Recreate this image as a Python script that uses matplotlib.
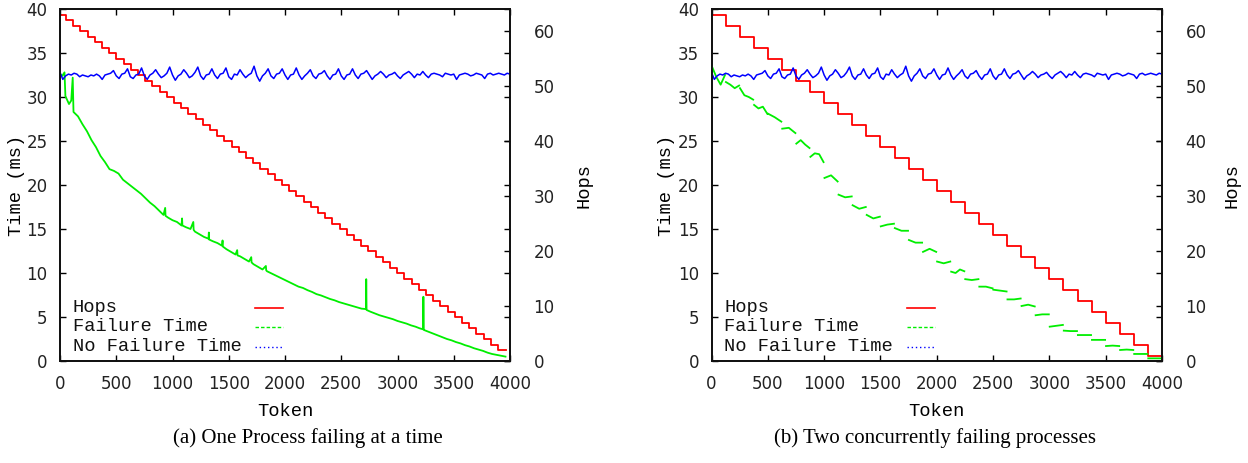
import numpy as np
import matplotlib
matplotlib.use("Agg")
import matplotlib.pyplot as plt

# ---------------- data ----------------
# Hops staircase, panel (a): step start tokens and hop levels
hops_a_start = [0, 54, 118, 182, 246, 310, 374, 438, 502, 566, 630, 694, 758, 822, 886, 950,
                1014, 1078, 1142, 1206, 1270, 1334, 1398, 1462, 1526, 1590, 1654, 1718, 1782,
                1846, 1910, 1974, 2038, 2102, 2166, 2230, 2294, 2358, 2422, 2486, 2550, 2614,
                2678, 2742, 2806, 2870, 2934, 2998, 3062, 3126, 3190, 3254, 3318, 3382, 3446,
                3510, 3574, 3638, 3702, 3766, 3830, 3894]
hops_a_level = [63, 62, 61, 60, 59, 58, 57, 56, 55, 54, 53, 52, 51, 50, 49, 48, 47, 46, 45, 44,
                43, 42, 41, 40, 39, 38, 37, 36, 35, 34, 33, 32, 31, 30, 29, 28, 27, 26, 25, 24,
                23, 22, 21, 20, 19, 18, 17, 16, 15, 14, 13, 12, 11, 10, 9, 8, 7, 6, 5, 4, 3, 2]
hops_a_end = 3962

# Hops staircase, panel (b)
hops_b_start = [0, 125, 250, 375, 500, 625, 750, 875, 1000, 1125, 1250, 1375, 1500, 1625, 1750,
                1875, 2000, 2125, 2250, 2375, 2500, 2625, 2750, 2875, 3000, 3125, 3250, 3375,
                3500, 3625, 3750, 3875]
hops_b_level = [63, 61, 59, 57, 55, 53, 51, 49, 47, 45, 43, 41, 39, 37, 35, 33, 31, 29, 27, 25,
                23, 21, 19, 17, 15, 13, 11, 9, 7, 5, 3, 1]
hops_b_end = 4000

# Failure time, panel (a)
fail_a_tok = [0, 20, 40, 48, 80, 100, 113, 120, 160, 200, 240, 280, 320, 360, 400, 440, 480,
              520, 560, 600, 640, 680, 720, 760, 800, 840, 880, 920, 935, 938, 960, 1000, 1040,
              1080, 1085, 1088, 1120, 1160, 1185, 1188, 1200, 1240, 1280, 1320, 1323, 1326,
              1360, 1400, 1440, 1445, 1448, 1480, 1520, 1560, 1575, 1578, 1600, 1640, 1680,
              1700, 1703, 1720, 1760, 1800, 1830, 1833, 1840, 1880, 1920, 1960, 2000, 2040,
              2080, 2120, 2160, 2200, 2240, 2280, 2320, 2360, 2400, 2440, 2480, 2520, 2560,
              2600, 2640, 2680, 2720, 2722, 2725, 2760, 2800, 2840, 2880, 2920, 2960, 3000,
              3040, 3080, 3120, 3160, 3200, 3228, 3230, 3233, 3240, 3280, 3320, 3360, 3400,
              3440, 3480, 3520, 3560, 3600, 3640, 3680, 3720, 3760, 3800, 3840, 3880, 3920,
              3960]
fail_a_val = [32.6, 32.4, 32.8, 30.1, 29.2, 29.6, 32.2, 28.3, 27.8, 26.9, 26.1, 25.1, 24.3,
              23.3, 22.6, 21.8, 21.6, 21.3, 20.6, 20.2, 19.8, 19.4, 19.0, 18.5, 18.0, 17.6,
              17.1, 16.6, 17.4, 16.5, 16.3, 16.0, 15.8, 15.4, 16.2, 15.4, 15.2, 15.0, 15.8,
              14.9, 14.7, 14.4, 14.1, 13.9, 14.6, 13.8, 13.6, 13.4, 13.1, 13.7, 13.0, 12.7,
              12.4, 12.1, 12.6, 12.0, 11.9, 11.6, 11.3, 11.8, 11.2, 11.0, 10.7, 10.4, 10.8,
              10.3, 10.2, 9.95, 9.7, 9.45, 9.2, 8.95, 8.7, 8.45, 8.3, 8.05, 7.85, 7.6, 7.45,
              7.25, 7.05, 6.9, 6.7, 6.55, 6.4, 6.25, 6.1, 5.95, 5.9, 9.3, 5.8, 5.6, 5.4, 5.2,
              5.05, 4.9, 4.75, 4.55, 4.4, 4.25, 4.05, 3.9, 3.7, 3.6, 7.3, 3.55, 3.5, 3.3, 3.1,
              2.9, 2.7, 2.5, 2.35, 2.15, 2.0, 1.8, 1.65, 1.45, 1.3, 1.15, 0.95, 0.8, 0.7, 0.6,
              0.5]

# Failure time, panel (b): one cluster of readings per hop step
fail_b_start = hops_b_start
fail_b_vals = [
    [33.5, 32.3, 31.4, 32.5], [31.7, 31.4, 31.0, 31.3], [31.0, 30.2, 30.0, 29.7],
    [29.1, 28.7, 28.9, 28.1], [28.1, 27.7, 27.2], [26.4, 26.5, 25.9],
    [24.7, 25.1, 24.6, 24.2], [23.2, 23.6, 23.5, 22.6], [20.8, 21.1, 20.4],
    [18.9, 18.6, 18.7], [17.7, 17.3, 17.5], [16.6, 16.2, 16.4],
    [15.3, 15.5, 15.6], [15.1, 14.8, 14.8], [13.75, 13.45, 13.45],
    [12.4, 12.75, 12.4], [11.3, 11.1, 11.3], [10.15, 10.0, 10.4, 10.2],
    [9.3, 9.2, 9.3], [8.45, 8.45, 8.26], [8.1, 8.0, 7.9],
    [7.0, 7.0, 7.1], [6.25, 6.4, 6.2], [5.2, 5.3, 5.3],
    [3.9, 4.0, 4.1], [3.45, 3.4, 3.4], [2.95, 2.95, 2.95],
    [2.4, 2.4, 2.4], [1.7, 1.75, 1.7], [1.25, 1.3, 1.25],
    [0.8, 0.8, 0.8], [0.3, 0.3, 0.3]]

# No-failure time (sampled every 25 tokens, 0..4000)
nofail_val = [
    32.8, 32.0, 32.4, 32.6, 32.5, 32.7, 32.6, 32.3, 32.5, 32.4,
    32.3, 32.5, 32.4, 32.6, 32.4, 32.0, 32.5, 32.6, 32.7, 33.0,
    32.4, 32.1, 32.6, 32.7, 33.2, 32.3, 32.1, 32.5, 32.6, 33.3,
    32.4, 32.0, 32.5, 32.7, 33.1, 32.6, 32.2, 32.4, 32.7, 33.4,
    32.5, 31.9, 32.4, 32.6, 33.1, 32.7, 32.2, 32.4, 32.8, 33.4,
    32.4, 32.0, 32.5, 32.6, 33.2, 32.5, 32.1, 32.6, 32.7, 33.3,
    32.3, 32.0, 32.6, 32.5, 33.1, 32.6, 32.2, 32.5, 32.7, 33.5,
    32.4, 31.8, 32.4, 32.7, 33.2, 32.4, 32.1, 32.6, 32.7, 33.2,
    32.5, 32.0, 32.5, 32.6, 33.3, 32.5, 32.0, 32.4, 32.7, 33.1,
    32.4, 32.1, 32.6, 32.7, 33.0, 32.4, 32.0, 32.5, 32.6, 33.2,
    32.4, 32.0, 32.5, 32.6, 33.2, 32.5, 32.1, 32.6, 32.7, 33.0,
    32.5, 32.0, 32.4, 32.6, 32.9, 32.6, 32.2, 32.5, 32.6, 32.8,
    32.4, 32.1, 32.5, 32.7, 32.9, 32.6, 32.2, 32.6, 32.5, 32.9,
    32.5, 32.2, 32.6, 32.7, 32.6, 32.5, 32.3, 32.7, 32.6, 32.5,
    32.6, 32.0, 32.5, 32.6, 32.7, 32.6, 32.4, 32.5, 32.7, 32.6,
    32.5, 32.1, 32.6, 32.7, 32.5, 32.6, 32.7, 32.6, 32.5, 32.7,
    32.6]

x_ticks = [0, 500, 1000, 1500, 2000, 2500, 3000, 3500, 4000]
time_ticks = [0, 5, 10, 15, 20, 25, 30, 35, 40]
hops_ticks = [0, 10, 20, 30, 40, 50, 60]
legend_labels = ["Hops", "Failure Time", "No Failure Time"]
captions = ["(a) One Process failing at a time", "(b) Two concurrently failing processes"]

# ---------------- style ----------------
RED, GREEN, BLUE = "#ff0000", "#00ee00", "#0000ff"
MONO = "Liberation Mono"
TICKFONT = "DejaVu Sans"

fig = plt.figure(figsize=(12.48, 4.63), dpi=100)
W, H = 1248, 463


def make_panel(left_px, width_px, hop_start, hop_level, hop_end, fail_x, fail_y, caption,
               caption_x, ylab_x, y2lab_x):
    ax = fig.add_axes([left_px / W, (H - 361) / H, width_px / W, 352 / H])
    ax2 = ax.twinx()
    ax.set_zorder(ax2.get_zorder() + 1)
    ax.patch.set_visible(False)

    ax2.step(list(hop_start) + [hop_end], list(hop_level) + [hop_level[-1]], where="post",
             color=RED, lw=1.3)
    ax.plot(fail_x, fail_y, color=GREEN, lw=1.3)
    nx = np.linspace(0, 4000, len(nofail_val))
    ax.plot(nx, nofail_val, color=BLUE, lw=1.1)

    ax.set_xlim(0, 4000)
    ax.set_ylim(0, 40)
    ax2.set_ylim(0, 64)
    ax.set_xticks(x_ticks)
    ax.set_yticks(time_ticks)
    ax2.set_yticks(hops_ticks)

    ax.tick_params(axis="both", direction="in", length=4, width=1, top=True, right=True,
                   labelsize=12)
    ax.tick_params(axis="y", pad=9)
    ax.tick_params(axis="x", pad=10)
    ax2.tick_params(axis="y", direction="in", length=4, width=1, pad=17, labelsize=12)
    for a in (ax, ax2):
        for lab in a.get_xticklabels() + a.get_yticklabels():
            lab.set_fontfamily(TICKFONT)
            lab.set_color("#222222")
        for s in a.spines.values():
            s.set_linewidth(1.3)
            s.set_color("#111111")

    ax.set_xlabel("Token", family=MONO, fontsize=13.5)
    ax.xaxis.set_label_coords(0.5, -0.12)
    ax.set_ylabel("Time (ms)", family=MONO, fontsize=13.5)
    ax.yaxis.set_label_coords(ylab_x, 0.5)
    ax2.set_ylabel("Hops", family=MONO, fontsize=13.5)
    ax2.yaxis.set_label_coords(y2lab_x, 0.5)

    # gnuplot-style key: text on the left, line sample on the right
    rows_y = [0.151, 0.097, 0.040]
    styles = [dict(color=RED, lw=1.2, ls="-"),
              dict(color=GREEN, lw=1.0, ls=(0, (2.5, 1.5))),
              dict(color=BLUE, lw=1.0, ls=(0, (1, 2)))]
    for lbl, yy, st in zip(legend_labels, rows_y, styles):
        ax.text(0.028, yy, lbl, transform=ax.transAxes, family=MONO, fontsize=13.5,
                va="center", ha="left", color="#111111")
        ax.plot([0.433, 0.496], [yy, yy], transform=ax.transAxes, clip_on=False, **st)

    fig.text(caption_x / W, (H - 438) / H, caption, family="Liberation Serif", fontsize=15,
             ha="center", va="center")
    return ax


# panel (a)
make_panel(60, 450, hops_a_start, hops_a_level, hops_a_end, fail_a_tok, fail_a_val,
           captions[0], 308, -0.078, 1.145)

# panel (b): clusters separated by gaps
bx, by = [], []
for st, vals in zip(fail_b_start, fail_b_vals):
    xs = np.linspace(st + 3, st + 120, len(vals))
    bx.extend(xs.tolist() + [np.nan])
    by.extend(list(vals) + [np.nan])
make_panel(711.5, 450.5, hops_b_start, hops_b_level, hops_b_end, bx, by, captions[1], 935,
           -0.081, 1.1365)

fig.savefig("out.png", dpi=100)
